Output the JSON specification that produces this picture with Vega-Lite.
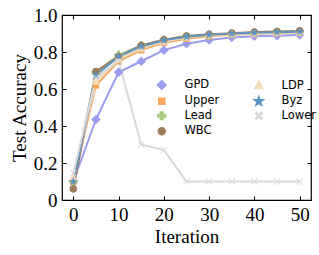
{
  "$schema": "https://vega.github.io/schema/vega-lite/v6.json",
  "width": 249,
  "height": 185,
  "autosize": {"type": "none"},
  "padding": {"left": 62, "top": 15, "right": 8, "bottom": 55},
  "background": "white",
  "config": {
    "view": {"stroke": "black", "strokeWidth": 1.2},
    "font": "Liberation Serif",
    "axis": {"grid": false, "domain": false, "tickColor": "black", "tickWidth": 1, "labelColor": "black", "titleColor": "black", "labelFont": "Liberation Serif", "titleFont": "Liberation Serif", "labelFontSize": 19, "titleFontSize": 19, "titleFontWeight": "normal", "labelFlush": false, "labelOverlap": false}
  },
  "data": {
    "values": [
      {"series": "GPD", "iter": 0, "acc": 0.10}, {"series": "GPD", "iter": 5, "acc": 0.435}, {"series": "GPD", "iter": 10, "acc": 0.69}, {"series": "GPD", "iter": 15, "acc": 0.75}, {"series": "GPD", "iter": 20, "acc": 0.81}, {"series": "GPD", "iter": 25, "acc": 0.845}, {"series": "GPD", "iter": 30, "acc": 0.865}, {"series": "GPD", "iter": 35, "acc": 0.879}, {"series": "GPD", "iter": 40, "acc": 0.885}, {"series": "GPD", "iter": 45, "acc": 0.888}, {"series": "GPD", "iter": 50, "acc": 0.892},
      {"series": "Upper", "iter": 0, "acc": 0.10}, {"series": "Upper", "iter": 5, "acc": 0.62}, {"series": "Upper", "iter": 10, "acc": 0.75}, {"series": "Upper", "iter": 15, "acc": 0.81}, {"series": "Upper", "iter": 20, "acc": 0.85}, {"series": "Upper", "iter": 25, "acc": 0.872}, {"series": "Upper", "iter": 30, "acc": 0.885}, {"series": "Upper", "iter": 35, "acc": 0.893}, {"series": "Upper", "iter": 40, "acc": 0.898}, {"series": "Upper", "iter": 45, "acc": 0.902}, {"series": "Upper", "iter": 50, "acc": 0.905},
      {"series": "Lead", "iter": 0, "acc": 0.10}, {"series": "Lead", "iter": 5, "acc": 0.69}, {"series": "Lead", "iter": 10, "acc": 0.785}, {"series": "Lead", "iter": 15, "acc": 0.835}, {"series": "Lead", "iter": 20, "acc": 0.866}, {"series": "Lead", "iter": 25, "acc": 0.884}, {"series": "Lead", "iter": 30, "acc": 0.894}, {"series": "Lead", "iter": 35, "acc": 0.899}, {"series": "Lead", "iter": 40, "acc": 0.905}, {"series": "Lead", "iter": 45, "acc": 0.908}, {"series": "Lead", "iter": 50, "acc": 0.91},
      {"series": "WBC", "iter": 0, "acc": 0.06}, {"series": "WBC", "iter": 5, "acc": 0.695}, {"series": "WBC", "iter": 10, "acc": 0.775}, {"series": "WBC", "iter": 15, "acc": 0.835}, {"series": "WBC", "iter": 20, "acc": 0.866}, {"series": "WBC", "iter": 25, "acc": 0.886}, {"series": "WBC", "iter": 30, "acc": 0.896}, {"series": "WBC", "iter": 35, "acc": 0.902}, {"series": "WBC", "iter": 40, "acc": 0.908}, {"series": "WBC", "iter": 45, "acc": 0.911}, {"series": "WBC", "iter": 50, "acc": 0.914},
      {"series": "LDP", "iter": 0, "acc": 0.12}, {"series": "LDP", "iter": 5, "acc": 0.64}, {"series": "LDP", "iter": 10, "acc": 0.76}, {"series": "LDP", "iter": 15, "acc": 0.82}, {"series": "LDP", "iter": 20, "acc": 0.856}, {"series": "LDP", "iter": 25, "acc": 0.878}, {"series": "LDP", "iter": 30, "acc": 0.89}, {"series": "LDP", "iter": 35, "acc": 0.896}, {"series": "LDP", "iter": 40, "acc": 0.9}, {"series": "LDP", "iter": 45, "acc": 0.904}, {"series": "LDP", "iter": 50, "acc": 0.906},
      {"series": "Byz", "iter": 0, "acc": 0.10}, {"series": "Byz", "iter": 5, "acc": 0.675}, {"series": "Byz", "iter": 10, "acc": 0.775}, {"series": "Byz", "iter": 15, "acc": 0.83}, {"series": "Byz", "iter": 20, "acc": 0.863}, {"series": "Byz", "iter": 25, "acc": 0.883}, {"series": "Byz", "iter": 30, "acc": 0.893}, {"series": "Byz", "iter": 35, "acc": 0.899}, {"series": "Byz", "iter": 40, "acc": 0.904}, {"series": "Byz", "iter": 45, "acc": 0.907}, {"series": "Byz", "iter": 50, "acc": 0.91},
      {"series": "Lower", "iter": 0, "acc": 0.145}, {"series": "Lower", "iter": 5, "acc": 0.66}, {"series": "Lower", "iter": 10, "acc": 0.75}, {"series": "Lower", "iter": 15, "acc": 0.30}, {"series": "Lower", "iter": 20, "acc": 0.27}, {"series": "Lower", "iter": 25, "acc": 0.10}, {"series": "Lower", "iter": 30, "acc": 0.10}, {"series": "Lower", "iter": 35, "acc": 0.10}, {"series": "Lower", "iter": 40, "acc": 0.10}, {"series": "Lower", "iter": 45, "acc": 0.10}, {"series": "Lower", "iter": 50, "acc": 0.10}
    ]
  },
  "layer": [
    {
      "mark": {"type": "line", "strokeWidth": 2},
      "encoding": {
        "x": {"field": "iter", "type": "quantitative", "scale": {"domain": [-2.5, 52.5], "nice": false, "zero": false},
              "axis": {"orient": "bottom", "values": [0, 10, 20, 30, 40, 50], "title": "Iteration", "tickSize": -4, "labelPadding": 9.5, "titlePadding": 3}},
        "y": {"field": "acc", "type": "quantitative", "scale": {"domain": [0, 1], "nice": false, "zero": false},
              "axis": {"orient": "left", "values": [0, 0.2, 0.4, 0.6, 0.8, 1.0], "labelExpr": "datum.value == 0 ? '0' : format(datum.value, '.1f')", "title": "Test Accuracy", "tickSize": -4, "labelPadding": 9, "titlePadding": 4}},
        "color": {"field": "series", "type": "nominal",
                  "scale": {"domain": ["GPD", "Upper", "Lead", "WBC", "LDP", "Byz", "Lower"], "range": ["#9b9bef", "#f6a860", "#a9cc82", "#9d7b58", "#f2dcba", "#5b95c6", "#d9d9d9"]},
                  "legend": {"orient": "none", "legendX": 94, "legendY": 64, "columns": 2, "title": null, "padding": 0, "symbolSize": 64, "labelFont": "DejaVu Sans", "labelFontSize": 11.5, "labelColor": "black", "labelOffset": 17, "columnPadding": 30, "rowPadding": -0.5, "symbolStrokeWidth": 2, "symbolOpacity": 1}}
      }
    },
    {
      "mark": {"type": "point", "filled": true, "opacity": 1, "size": 90},
      "encoding": {
        "x": {"field": "iter", "type": "quantitative", "axis": {"orient": "top", "values": [0, 10, 20, 30, 40, 50], "labels": false, "title": null, "tickSize": -4}},
        "y": {"field": "acc", "type": "quantitative", "axis": {"orient": "right", "values": [0, 0.2, 0.4, 0.6, 0.8, 1.0], "labels": false, "title": null, "tickSize": -4}},
        "color": {"field": "series", "type": "nominal", "legend": null},
        "shape": {"field": "series", "type": "nominal", "legend": null,
                  "scale": {"domain": ["GPD", "Upper", "Lead", "WBC", "LDP", "Byz", "Lower"],
                            "range": ["M0,-1L1,0L0,1L-1,0Z", "M-0.7,-0.7H0.7V0.7H-0.7Z", "M-0.28,-0.9H0.28V-0.28H0.9V0.28H0.28V0.9H-0.28V0.28H-0.9V-0.28H-0.28Z", "M0.8,0A0.8,0.8,0,1,1,-0.8,0A0.8,0.8,0,1,1,0.8,0Z", "M0,-0.95L0.9,0.65H-0.9Z", "M0,-1L0.235,-0.324L0.951,-0.309L0.38,0.124L0.588,0.809L0,0.4L-0.588,0.809L-0.38,0.124L-0.951,-0.309L-0.235,-0.324Z", "M-0.75,-0.6L-0.6,-0.75L0.75,0.6L0.6,0.75ZM0.6,-0.75L0.75,-0.6L-0.6,0.75L-0.75,0.6Z"]}}
      }
    }
  ],
  "resolve": {"axis": {"x": "independent", "y": "independent"}}
}
